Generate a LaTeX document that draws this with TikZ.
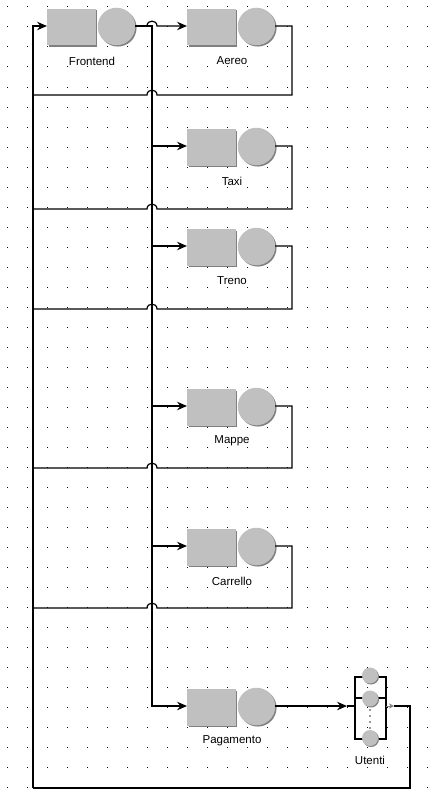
\documentclass[tikz,border=0pt]{standalone}
\usepackage{fontspec}
\setmainfont{Liberation Sans}
\usetikzlibrary{arrows.meta,shadows}
\definecolor{qfill}{HTML}{C0C0C0}
\definecolor{qshade}{HTML}{808080}
\definecolor{dotc}{HTML}{000050}
\tikzset{
  queuebox/.style={rectangle, fill=qfill, minimum width=48.5, minimum height=36.5, inner sep=0,
    general shadow={fill=qshade, shadow xshift=1.5pt, shadow yshift=-1.5pt}},
  serverc/.style={circle, fill=qfill, minimum size=37.5, inner sep=0,
    general shadow={fill=qshade, shadow xshift=1.3pt, shadow yshift=-1.3pt}},
  minisrv/.style={circle, fill=qfill, minimum size=16, inner sep=0,
    general shadow={fill=qshade, shadow xshift=1pt, shadow yshift=-1pt}},
  lbl/.style={font=\fontsize{11.5}{13}\selectfont, inner sep=0},
  conn/.style={line width=1.2pt, black},
  arr/.style={-{Stealth[length=10pt,width=8.5pt,inset=3.5pt]}},
}
% station: name, left x, centre y, label
\newcommand\mystation[4]{%
  \node[queuebox] (#1-q) at ({#2+24.25},{#3+1.25}) {};
  \node[serverc] (#1-s) at ({#2+69.5},{#3+0.5}) {};
  \node[lbl] (#1-l) at ({#2+45},{#3+35}) {#4};
  \coordinate (#1-in) at (#2,#3);
  \coordinate (#1-out) at ({#2+88},#3);
}
\begin{document}
\begin{tikzpicture}[x=1pt,y=-1pt]
\fill[white] (0,0) rectangle (446,800);
\useasboundingbox (0,0) rectangle (446,800);
% grid dots
\foreach \i in {0,...,21}{
  \foreach \j in {0,...,39}{
    \fill[dotc] ({6.5+20*\i},{6.5+20*\j}) rectangle +(1,1);
  }
}
% stations
\mystation{fe}{47}{26}{Frontend}
\mystation{ae}{187}{26}{Aereo}
\mystation{ta}{187}{146}{Taxi}
\mystation{tr}{187}{246}{Treno}
\mystation{ma}{187}{406}{Mappe}
\mystation{ca}{187}{546}{Carrello}
\mystation{pa}{187}{706}{Pagamento}
% junction coordinates
\coordinate (J0) at (152,26);
\coordinate (Jta) at (152,146);
\coordinate (Jtr) at (152,246);
\coordinate (Jma) at (152,406);
\coordinate (Jca) at (152,546);
\coordinate (Jpa) at (152,706);
\coordinate (LT) at (33,26);
\coordinate (LB) at (33,788);
% Frontend -> Aereo (with hop)
\draw[conn,arr] (fe-out) -- (147,26) .. controls (147,19.5) and (157,19.5) .. (157,26) -- (ae-in);
% trunk
\draw[conn,arr] (fe-out) -- (J0) |- (pa-in);
\draw[conn,arr] (Jta) -- (ta-in);
\draw[conn,arr] (Jtr) -- (tr-in);
\draw[conn,arr] (Jma) -- (ma-in);
\draw[conn,arr] (Jca) -- (ca-in);
% returns
\foreach \n/\cy/\ry in {ae/26/95, ta/146/209, tr/246/309, ma/406/468, ca/546/608}{
  \draw[conn] (\n-out) -- (292,\cy) -- (292,\ry) -- (157,\ry)
     .. controls (157,{\ry-6.5}) and (147,{\ry-6.5}) .. (147,\ry) -- (33,\ry);
}
% left return into Frontend
\draw[conn,arr] (LB) -- (LT) -- (fe-in);
% Utenti multi-server
\node[draw, line width=1.1pt, minimum width=31, minimum height=62, inner sep=0] (ut) at (370.5,708) {};
\coordinate (ut-in) at (347,706);
\coordinate (ut-w) at (355,706);
\draw[line width=1.1pt] (355,698) -- (386,698);
\node[minisrv] (u1) at (370,675.5) {};
\node[minisrv] (u2) at (370,698.5) {};
\node[minisrv] (u3) at (370,738) {};
\foreach \yy in {709,715,721,727}{
  \fill[qfill!80!black] (369.3,\yy) rectangle +(1.4,2);
}
\node[lbl] (ut-l) at (370,760) {Utenti};
\draw[conn,arr] (pa-out) -- (ut-in);
\draw[line width=1.1pt] (ut-in) -- (ut-w);
\coordinate (ut-o1) at (386,706);
\coordinate (ut-o2) at (394,706);
\draw[qshade, line width=1pt, -{Stealth[length=5pt,width=5pt]}] (ut-o1) -- (ut-o2);
\draw[conn] (ut-o2) -- (410,706) -- (410,788) -- (LB);
\end{tikzpicture}
\end{document}
